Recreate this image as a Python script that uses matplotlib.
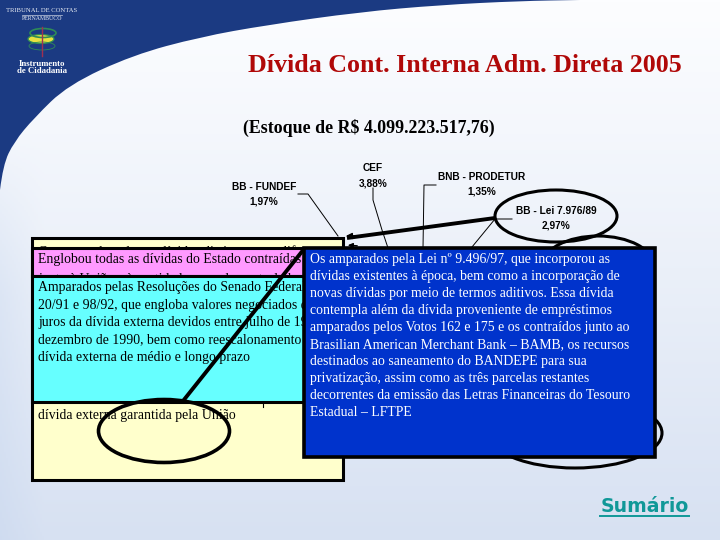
import numpy as np
import matplotlib
matplotlib.use("Agg")
import matplotlib.pyplot as plt
from matplotlib.patches import Rectangle, Ellipse, PathPatch, FancyArrowPatch
from matplotlib.path import Path

title = "Dívida Cont. Interna Adm. Direta 2005"
subtitle = "(Estoque de R$ 4.099.223.517,76)"
labels = ["BB - FUNDEF", "CEF", "BNB - PRODETUR", "BB - Lei 7.976/89"]
percents = ["1,97%", "3,88%", "1,35%", "2,97%"]
yellow_top = ["Compreende todas as dívidas distintas com diferentes"]
pink_lines = ["Englobou todas as dívidas do Estado contraídas",
              "junto à União e às entidades por ela controladas"]
cyan_lines = ["Amparados pelas Resoluções do Senado Federal nº",
              "20/91 e 98/92, que engloba valores negociados de",
              "juros da dívida externa devidos entre julho de 1989 e",
              "dezembro de 1990, bem como reescalonamento da",
              "dívida externa de médio e longo prazo"]
yellow_bottom = ["dívida externa garantida pela União"]
blue_lines = ["Os amparados pela Lei nº 9.496/97, que incorporou as",
              "dívidas existentes à época, bem como a incorporação de",
              "novas dívidas por meio de termos aditivos. Essa dívida",
              "contempla além da dívida proveniente de empréstimos",
              "amparados pelos Votos 162 e 175 e os contraídos junto ao",
              "Brasilian American Merchant Bank – BAMB, os recursos",
              "destinados ao saneamento do BANDEPE para sua",
              "privatização, assim como as três parcelas restantes",
              "decorrentes da emissão das Letras Financeiras do Tesouro",
              "Estadual – LFTPE"]
swoosh_pts = [(0, 190), (3, 165), (14, 142), (34, 118), (68, 85), (133, 55),
              (200, 37), (267, 25), (360, 12), (440, 5), (520, 1), (580, 0)]

SERIF = "Liberation Serif"
SANS = "Liberation Sans"
BODY = 9.95

fig = plt.figure(figsize=(7.2, 5.4), dpi=100)
ax = fig.add_axes([0, 0, 1, 1])
ax.set_xlim(0, 720)
ax.set_ylim(540, 0)
ax.axis("off")

# background gradient
yy, xx = np.mgrid[0:1:270j, 0:1:360j]
top = np.array([252, 253, 255]) / 255
bot = np.array([215, 225, 242]) / 255
t = np.clip(yy ** 1.1, 0, 1)[..., None]
img = top * (1 - t) + bot * t
left = np.clip(1 - xx / 0.06, 0, 1)[..., None] * np.clip((yy - 0.25) / 0.3, 0, 1)[..., None]
img = img * (1 - 0.3 * left) + np.array([190, 208, 236]) / 255 * 0.3 * left
ax.imshow(img, extent=(0, 720, 540, 0), aspect="auto", zorder=0)

# top-left swoosh, smooth quadratic curve through the mid-points
verts = [swoosh_pts[0]]
codes = [Path.MOVETO]
for a, b in zip(swoosh_pts[1:-1], swoosh_pts[2:]):
    verts += [a, ((a[0] + b[0]) / 2, (a[1] + b[1]) / 2)]
    codes += [Path.CURVE3, Path.CURVE3]
verts += [swoosh_pts[-1], (0, 0), (0, 190)]
codes += [Path.LINETO, Path.LINETO, Path.CLOSEPOLY]
ax.add_patch(PathPatch(Path(verts, codes), fc="#1B3A82", ec="none", zorder=1))

# logo
ax.text(42, 10, "TRIBUNAL DE CONTAS", color="#E8ECF4", fontsize=4.8, family=SERIF,
        ha="center", va="center", zorder=3)
ax.plot([22, 62], [14.5, 14.5], color="#C8D0E0", lw=0.5, zorder=3)
ax.text(42, 19, "PERNAMBUCO", color="#E8ECF4", fontsize=4.2, family=SERIF,
        ha="center", va="center", zorder=3)
ax.add_patch(Ellipse((41, 39), 26, 9, fc="#E8E040", ec="#2E8B57", lw=0.9, zorder=3))
ax.add_patch(Ellipse((43, 33), 26, 9, fc="none", ec="#2E8B57", lw=1.2, zorder=3))
ax.add_patch(Ellipse((42, 46), 26, 8, fc="none", ec="#2E8B57", lw=0.6, zorder=3))
ax.plot([41.5, 41.5], [27, 56], color="#A03050", lw=1.0, zorder=4)
ax.text(42, 64, "Instrumento", color="white", fontsize=6.3, family=SERIF, weight="bold",
        ha="center", va="center", zorder=3)
ax.text(42, 71, "de Cidadania", color="white", fontsize=6.3, family=SERIF, weight="bold",
        ha="center", va="center", zorder=3)

# headings
ax.text(464.5, 65, title, color="#B00808", fontsize=18.7, family=SERIF, weight="bold",
        ha="center", va="center", zorder=3)
ax.text(368.5, 127.5, subtitle, color="black", fontsize=12.9, family=SERIF, weight="bold",
        ha="center", va="center", zorder=3)

# outside labels
label_xy = [(264, 187), (373, 168), (482, 177), (556, 211)]
pct_xy = [(264, 201), (373, 183), (482, 192), (556, 226)]
for s, p, a, b in zip(labels, percents, label_xy, pct_xy):
    ax.text(a[0], a[1], s, fontsize=7.3, family=SANS, weight="bold", ha="center", va="center", zorder=3)
    ax.text(b[0], b[1], p, fontsize=7.3, family=SANS, weight="bold", ha="center", va="center", zorder=3)

# leaders
leaders = [([298, 308, 338], [194, 194, 236]),
           ([373, 373, 382, 388], [188, 200, 230, 248]),
           ([436, 424, 423], [185, 185, 248]),
           ([512, 495, 472], [219, 219, 247])]
for lx, ly in leaders:
    ax.plot(lx, ly, color="black", lw=0.7, zorder=2)

# ovals that sit behind boxes
ax.add_patch(Ellipse((556, 216), 122, 52, fc="none", ec="black", lw=2.2, zorder=2))
ax.add_patch(Ellipse((598, 266), 112, 60, fc="none", ec="black", lw=2.2, zorder=2))
ax.add_patch(Ellipse((575, 433), 174, 70, fc="none", ec="black", lw=2.2, zorder=2))

# yellow box
ax.add_patch(Rectangle((31.5, 237.5), 311.5, 242, fc="#FFFFCC", ec="black", lw=2.2, zorder=4))
tx = ax.text(38, 252, yellow_top[0], fontsize=BODY, family=SERIF, ha="left", va="center", zorder=5)
tx.set_clip_path(Rectangle((32, 238), 311, 9, transform=ax.transData))
ax.text(38, 416, yellow_bottom[0], fontsize=BODY, family=SERIF, ha="left", va="center", zorder=5)
ax.plot([263, 263], [402, 407], color="black", lw=0.8, zorder=5)

# pink box
ax.add_patch(Rectangle((31.5, 247.5), 311.5, 28, fc="#FF99FF", ec="black", lw=2.2, zorder=6))
ax.text(38, 259, pink_lines[0], fontsize=BODY, family=SERIF, ha="left", va="center", zorder=7)
tx = ax.text(38, 279, pink_lines[1], fontsize=BODY, family=SERIF, ha="left", va="center", zorder=7)
tx.set_clip_path(Rectangle((32, 249), 311, 25, transform=ax.transData))

# cyan box
ax.add_patch(Rectangle((31.5, 275.5), 311.5, 126, fc="#66FFFF", ec="black", lw=2.2, zorder=8))
for i, s in enumerate(cyan_lines):
    ax.text(38, 288 + i * 17.3, s, fontsize=BODY, family=SERIF, ha="left", va="center", zorder=9)

# pointer line and oval over the boxes
ax.plot([304, 183], [249, 401], color="black", lw=2.8, zorder=10, solid_capstyle="butt")
ax.add_patch(Ellipse((164, 431), 131, 63, fc="none", ec="black", lw=2.6, zorder=10))

# line to BB - Lei oval and small arrowheads
ax.plot([495, 347], [218, 238], color="black", lw=2.8, zorder=3, solid_capstyle="butt")
ax.add_patch(FancyArrowPatch((360, 236), (343, 236), arrowstyle="-|>", mutation_scale=9,
                             color="black", lw=1, zorder=3))
ax.add_patch(FancyArrowPatch((360, 246), (345, 245), arrowstyle="-|>", mutation_scale=7,
                             color="black", lw=1, zorder=3))

# blue box
ax.add_patch(Rectangle((304, 248), 350.5, 208.5, fc="#0033CC", ec="black", lw=2.6, zorder=11))
for i, s in enumerate(blue_lines):
    ax.text(310, 259.5 + i * 17.0, s, color="white", fontsize=BODY, family=SERIF,
            ha="left", va="center", zorder=12)

# link
ax.text(644.5, 507, "Sumário", color="#109898", fontsize=13.6, family="DejaVu Sans",
        weight="bold", ha="center", va="center", zorder=3)
ax.plot([600, 689], [515.5, 515.5], color="#109898", lw=1.4, zorder=3)

fig.savefig("out.png", dpi=100)
